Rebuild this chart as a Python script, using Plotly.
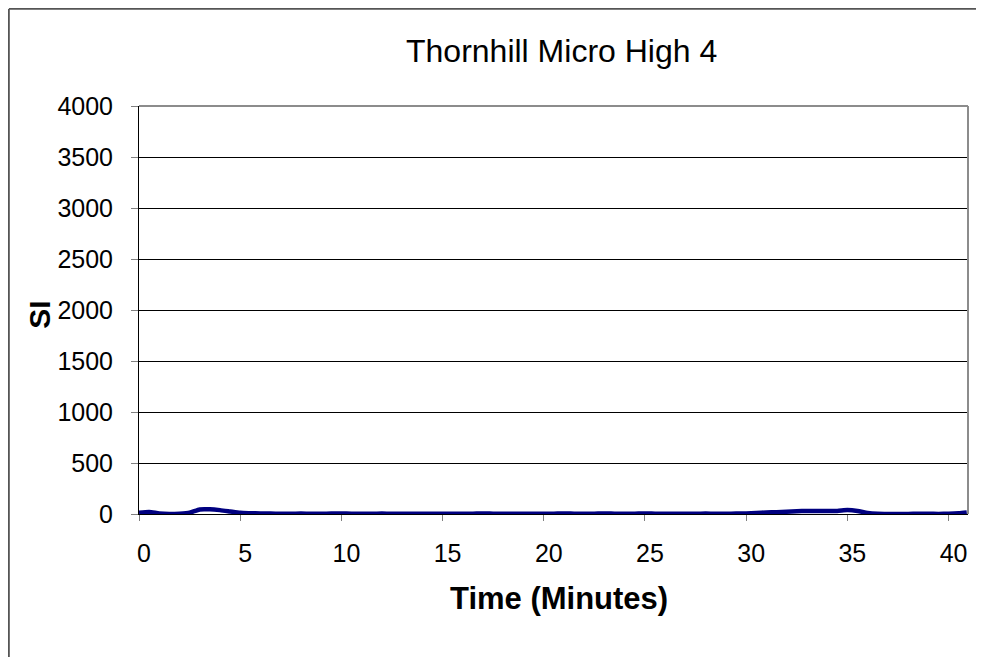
import plotly.graph_objects as go

# Data
time_min = [0, 0.5, 1, 1.5, 2, 2.5, 3, 3.5, 4, 4.5, 5, 5.5, 6, 6.5, 7, 7.5, 8, 8.5, 9, 9.5,
            10, 10.5, 11, 11.5, 12, 12.5, 13, 13.5, 14, 14.5, 15, 15.5, 16, 16.5, 17, 17.5,
            18, 18.5, 19, 19.5, 20, 20.5, 21, 21.5, 22, 22.5, 23, 23.5, 24, 24.5, 25, 25.5,
            26, 26.5, 27, 27.5, 28, 28.5, 29, 29.5, 30, 30.5, 31, 31.5, 32, 32.5, 33, 33.5,
            34, 34.5, 35, 35.5, 36, 36.5, 37, 37.5, 38, 38.5, 39, 39.5, 40, 40.5, 40.9]
si_values = [12, 20, 5, 0, 3, 12, 45, 46, 38, 25, 12, 8, 5, 4, 3, 2, 4, 2, 3, 4,
             5, 3, 2, 3, 4, 2, 2, 2, 2, 2, 2, 2, 2, 3, 5, 3, 2, 2, 2, 2,
             2, 3, 5, 3, 2, 3, 5, 3, 2, 3, 5, 3, 2, 2, 2, 3, 4, 3, 3, 4,
             6, 10, 15, 18, 23, 27, 30, 30, 30, 30, 38, 30, 10, 2, 0, 0, 1, 2, 2, 1,
             3, 8, 16]

chart_title = "Thornhill Micro High 4"
x_title = "Time (Minutes)"
y_title = "SI"
x_ticks = [0, 5, 10, 15, 20, 25, 30, 35, 40]
y_ticks = [0, 500, 1000, 1500, 2000, 2500, 3000, 3500, 4000]

FONT = "Liberation Sans, Arial, sans-serif"

# page offset (browser body margin)
OFF = 8
# plot-area pixel geometry in page coordinates
L, R, T, B = 139, 968, 106, 514
W, H = 984 - OFF, 657 - OFF

def px(xp):
    return (xp - L) / (R - L)

def py(yp):
    return (B - yp) / (B - T)

fig = go.Figure()
fig.add_trace(go.Scatter(
    x=time_min, y=si_values, mode="lines",
    line=dict(color="#000080", width=4.5, shape="spline", smoothing=0.6),
    showlegend=False, cliponaxis=False,
))

fig.update_layout(
    width=W, height=H,
    margin=dict(l=L - OFF, r=W - (R - OFF), t=T - OFF, b=H - (B - OFF), pad=0),
    paper_bgcolor="white", plot_bgcolor="white",
    font=dict(family=FONT, color="black"),
    xaxis=dict(
        range=[0, 40.96], tickmode="array", tickvals=x_ticks,
        ticks="outside", ticklen=6, tickcolor="#808080", tickwidth=1,
        showline=True, linecolor="black", linewidth=1,
        showgrid=False, zeroline=False,
        tickfont=dict(size=25, family=FONT, color="black"),
        ticklabelshift=5, ticklabelstandoff=11,
    ),
    yaxis=dict(
        range=[0, 4000], tickmode="array", tickvals=y_ticks,
        ticks="outside", ticklen=7, tickcolor="#808080", tickwidth=1,
        showline=True, linecolor="black", linewidth=1,
        showgrid=True, gridcolor="black", gridwidth=1, zeroline=False,
        tickfont=dict(size=25, family=FONT, color="black"),
        ticklabelstandoff=13,
    ),
    shapes=[
        dict(type="line", xref="paper", yref="paper", x0=0, x1=1, y0=1, y1=1,
             line=dict(color="#8c8c8c", width=2), layer="above"),
        dict(type="line", xref="paper", yref="paper", x0=1, x1=1, y0=0, y1=1,
             line=dict(color="#8c8c8c", width=2), layer="above"),
        # outer chart border (left and top edges visible)
        dict(type="line", xref="paper", yref="paper",
             x0=px(OFF + 0.9), x1=px(OFF + 0.9), y0=py(H + OFF), y1=py(OFF + 0.9),
             line=dict(color="#555555", width=1.8), layer="below"),
        dict(type="line", xref="paper", yref="paper",
             x0=px(OFF + 0.9), x1=px(W + OFF), y0=py(OFF + 0.9), y1=py(OFF + 0.9),
             line=dict(color="#555555", width=1.8), layer="below"),
    ],
    annotations=[
        dict(text=chart_title, xref="paper", yref="paper", x=px(561.5), y=py(51),
             xanchor="center", yanchor="middle", showarrow=False,
             font=dict(size=32, family=FONT, color="black")),
        dict(text="<b>" + x_title + "</b>", xref="paper", yref="paper", x=px(559), y=py(598.5),
             xanchor="center", yanchor="middle", showarrow=False,
             font=dict(size=31, family=FONT, color="black")),
        dict(text="<b>" + y_title + "</b>", xref="paper", yref="paper", x=px(40), y=py(314.7),
             xanchor="center", yanchor="middle", showarrow=False, textangle=-90,
             font=dict(size=30, family=FONT, color="black")),
    ],
)

fig.write_html("out.html")
